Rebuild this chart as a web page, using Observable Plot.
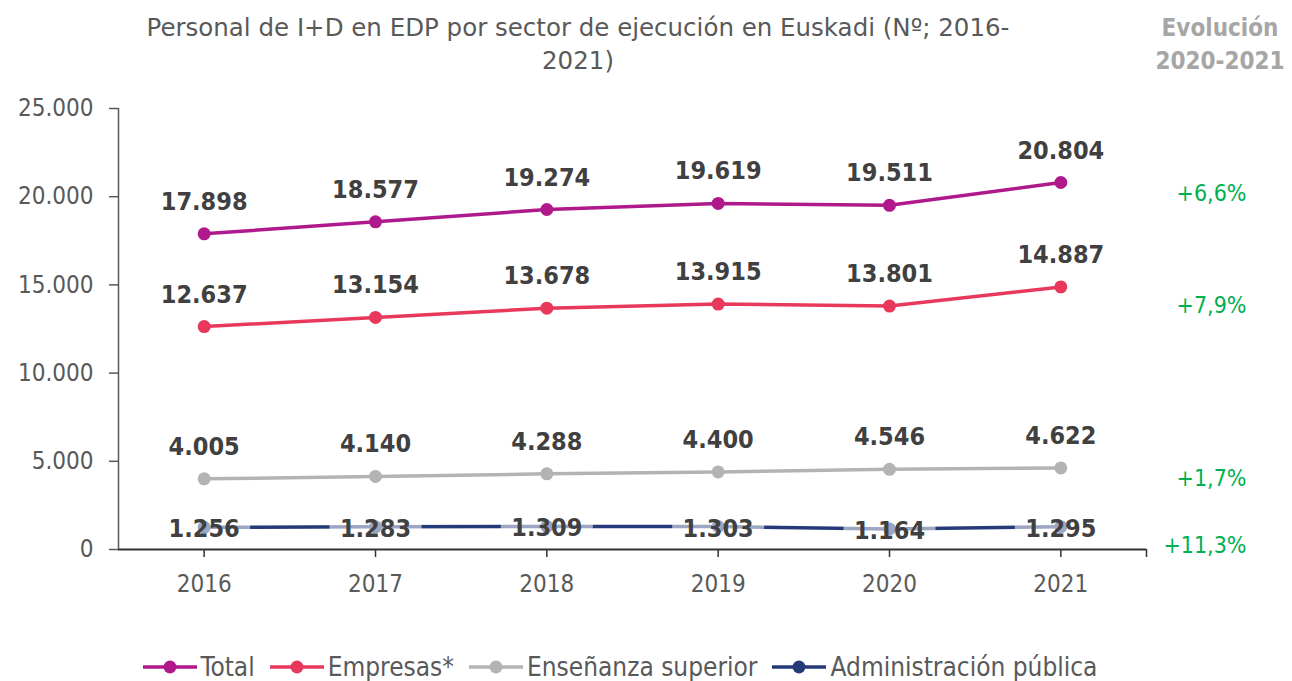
<!DOCTYPE html>
<html>
<head>
<meta charset="utf-8">
<script src="https://cdn.jsdelivr.net/npm/d3@7"></script>
<script src="https://cdn.jsdelivr.net/npm/@observablehq/plot@0.6"></script>
<style>
  html, body { margin: 0; padding: 0; background: #fff; }
  body { font-family: "DejaVu Sans Condensed", "DejaVu Sans", sans-serif; }
  #wrap { position: relative; width: 1292px; height: 681px; overflow: hidden; }
  #chart { position: absolute; left: 0; top: 0; }
  #title { position: absolute; left: 0; width: 1156px; top: 11px; text-align: center;
           font-family: "DejaVu Sans", sans-serif;
           font-size: 24.5px; line-height: 33px; color: #595959; }
  #evo { position: absolute; left: 1120px; width: 200px; top: 12px; text-align: center;
         font-size: 24px; line-height: 33px; color: #a6a6a6; font-weight: bold; }
  #legend { position: absolute; left: 0; width: 1240px; top: 650px; display: flex; justify-content: center;
            gap: 15px; font-size: 26px; line-height: 34px; color: #595959; align-items: center; }
  .item { display: flex; align-items: center; gap: 4px; }
</style>
</head>
<body>
<div id="wrap">
  <div id="chart"></div>
  <div id="title">Personal de I+D en EDP por sector de ejecución en Euskadi (Nº; 2016-<br>2021)</div>
  <div id="evo">Evolución<br>2020-2021</div>
  <div id="legend"></div>
</div>
<script>
const years = [2016, 2017, 2018, 2019, 2020, 2021];
const seriesNames = ["Total", "Empresas*", "Enseñanza superior", "Administración pública"];
const seriesColors = ["#b0198c", "#e8385b", "#b3b3b3", "#253a78"];
const total = [17898, 18577, 19274, 19619, 19511, 20804];
const empresas = [12637, 13154, 13678, 13915, 13801, 14887];
const ensenanza = [4005, 4140, 4288, 4400, 4546, 4622];
const administracion = [1256, 1283, 1309, 1303, 1164, 1295];
const yTicks = [0, 5000, 10000, 15000, 20000, 25000];

const allSeries = [total, empresas, ensenanza, administracion];
const data = [];
allSeries.forEach((vals, i) => vals.forEach((v, j) => data.push({series: seriesNames[i], year: years[j], value: v})));

const es = d3.formatLocale({decimal: ",", thousands: ".", grouping: [3], currency: ["", "€"]});
const fmt = es.format(",d");
const pctFmt = es.format("+.1%");

const evo = allSeries.map((vals, i) => ({
  series: seriesNames[i],
  value: vals[vals.length - 1],
  label: pctFmt(vals[vals.length - 1] / vals[vals.length - 2] - 1)
}));

const FONT = "DejaVu Sans Condensed, DejaVu Sans, sans-serif";
const color = {domain: seriesNames, range: seriesColors};

const boxSymbol = { draw(ctx) { ctx.rect(-46, -14, 92, 28); } };

const upper = data.filter(d => d.series !== "Administración pública");
const admin = data.filter(d => d.series === "Administración pública");

const plot = Plot.plot({
  width: 1292,
  height: 620,
  marginLeft: 118,
  marginRight: 146,
  marginTop: 108,
  marginBottom: 71,
  style: {fontFamily: FONT, background: "transparent", overflow: "visible"},
  x: {type: "linear", domain: [2015.5, 2021.5]},
  y: {domain: [0, 25000]},
  color,
  marks: [
    Plot.axisY({ticks: yTicks, tickFormat: fmt, tickSize: 9, tickPadding: 16, fontSize: 24,
                fill: "#595959", stroke: "#595959", strokeWidth: 1.5, label: null}),
    Plot.axisX({ticks: [...years, 2021.5], tickFormat: d => Number.isInteger(d) ? String(d) : "",
                tickSize: 8, tickPadding: 17, fontSize: 24, fill: "#595959", stroke: "#333",
                strokeWidth: 1.5, label: null}),
    Plot.ruleX([2015.5], {stroke: "#595959", strokeWidth: 1.5}),
    Plot.line(data, {x: "year", y: "value", z: "series", stroke: "series", strokeWidth: 3.5}),
    Plot.dot(data, {x: "year", y: "value", fill: "series", r: 6.5}),
    Plot.ruleY([0], {stroke: "#333", strokeWidth: 2}),
    Plot.dot(admin, {x: "year", y: "value", symbol: boxSymbol, fill: "white", fillOpacity: 0.55, stroke: null}),
    Plot.text(upper, {x: "year", y: "value", text: d => fmt(d.value), dy: -32, fontSize: 25,
                      fontWeight: "bold", fill: "#404040"}),
    Plot.text(admin, {x: "year", y: "value", text: d => fmt(d.value), dy: 2, fontSize: 25,
                      fontWeight: "bold", fill: "#404040"}),
    Plot.text(evo.filter((d, i) => i % 2 === 0), {x: () => 2021.5, y: "value", text: "label", dx: 100, dy: 11,
                      textAnchor: "end", fontSize: 23, fill: "#00b050"}),
    Plot.text(evo.filter((d, i) => i % 2 === 1), {x: () => 2021.5, y: "value", text: "label", dx: 100, dy: 19,
                      textAnchor: "end", fontSize: 23, fill: "#00b050"})
  ]
});
document.getElementById("chart").appendChild(plot);

const legend = document.getElementById("legend");
seriesNames.forEach((name, i) => {
  const item = document.createElement("div");
  item.className = "item";
  item.innerHTML = `<svg width="54" height="16"><line x1="0" y1="8" x2="54" y2="8" stroke="${seriesColors[i]}" stroke-width="3.5"/><circle cx="27" cy="8" r="6.5" fill="${seriesColors[i]}"/></svg><span>${name}</span>`;
  legend.appendChild(item);
});
</script>
</body>
</html>
